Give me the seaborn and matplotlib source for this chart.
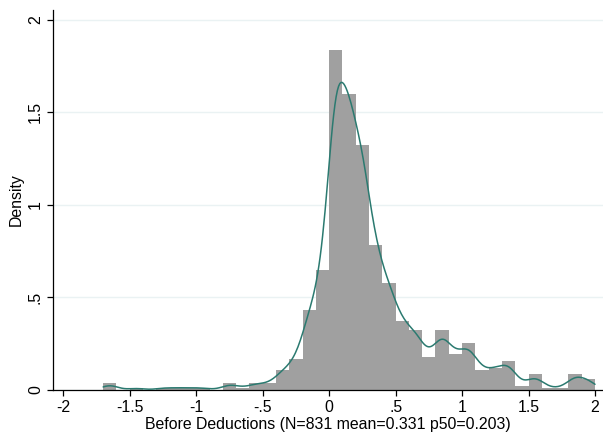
import numpy as np
import pandas as pd
import matplotlib
matplotlib.use('Agg')
import matplotlib.pyplot as plt
import seaborn as sns

# histogram bins (left edges, width 0.1) and counts
bin_left = [-1.7, -1.6, -1.5, -1.4, -1.3, -1.2, -1.1, -1.0, -0.9, -0.8,
            -0.7, -0.6, -0.5, -0.4, -0.3, -0.2, -0.1, 0.0, 0.1, 0.2,
            0.3, 0.4, 0.5, 0.6, 0.7, 0.8, 0.9, 1.0, 1.1, 1.2,
            1.3, 1.4, 1.5, 1.6, 1.7, 1.8, 1.9]
counts = [3, 0, 1, 0, 1, 1, 1, 1, 0, 3,
          1, 3, 3, 9, 14, 36, 54, 153, 133, 110,
          65, 48, 31, 27, 15, 27, 16, 21, 9, 10,
          13, 2, 7, 1, 1, 7, 5]
bin_width = 0.1

x_ticks = [-2, -1.5, -1, -0.5, 0, 0.5, 1, 1.5, 2]
x_labels = ['-2', '-1.5', '-1', '-.5', '0', '.5', '1', '1.5', '2']
y_ticks = [0, 0.5, 1, 1.5, 2]
y_labels = ['0', '.5', '1', '1.5', '2']
x_title = 'Before Deductions (N=831 mean=0.331 p50=0.203)'

sns.set_theme(style='white')
plt.rcParams['font.family'] = ['Liberation Sans', 'DejaVu Sans']

df = pd.DataFrame({'left': bin_left, 'n': counts})
df['mid'] = df['left'] + bin_width / 2
edges = list(df['left']) + [bin_left[-1] + bin_width]

fig = plt.figure(figsize=(6.03, 4.32), dpi=100)
ax = fig.add_axes([0.0884, 0.0972, 0.9116, 0.8797])

sns.histplot(data=df, x='mid', weights='n', bins=edges, stat='density',
             color='#a0a0a0', alpha=1, linewidth=0, ax=ax, zorder=2)

# kernel density from the binned values, over the data range
w = df['n'] / df['n'].sum()
mu = (df['mid'] * w).sum()
sd = np.sqrt(((df['mid'] - mu) ** 2 * w).sum())
bw = 0.06
sns.kdeplot(data=df, x='mid', weights='n', bw_method=bw / sd, cut=3,
            clip=(edges[0], edges[-1]), gridsize=400,
            color='#2b7a70', linewidth=1.1, ax=ax, zorder=3)

ax.set_xlim(-2.075, 2.06)
ax.set_ylim(0, 2.054)
ax.set_xticks(x_ticks)
ax.set_xticklabels(x_labels)
ax.set_yticks(y_ticks)
ax.set_yticklabels(y_labels, rotation=90, va='center')
ax.yaxis.grid(True, color='#eaf2f3', linewidth=1.0, zorder=0)
ax.set_axisbelow(True)

for s in ['top', 'right']:
    ax.spines[s].set_visible(False)
for s in ['left', 'bottom']:
    ax.spines[s].set_color('black')
    ax.spines[s].set_linewidth(0.9)
ax.tick_params(axis='both', direction='out', length=4.5, width=0.9,
               color='black', labelsize=11.4, labelcolor='black', pad=3)
ax.tick_params(axis='x', bottom=True)
ax.tick_params(axis='y', left=True)

ax.set_xlabel(x_title, fontsize=11.4, color='black', labelpad=1)
ax.set_ylabel('Density', fontsize=11.4, color='black', labelpad=3)

fig.savefig('out.png', dpi=100)
